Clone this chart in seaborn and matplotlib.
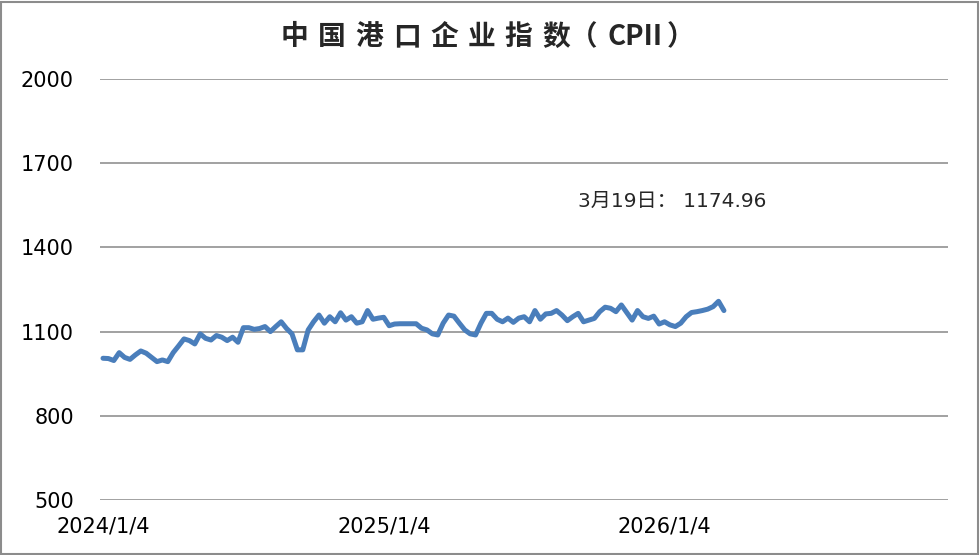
import matplotlib
matplotlib.use("Agg")
import matplotlib.pyplot as plt
from matplotlib.patches import Rectangle
import seaborn as sns
import pandas as pd

# weekly CPII readings, 2024/1/4 .. 2026/3/19
cpii = [1005, 1004, 997, 1025, 1008, 1001, 1017, 1031, 1023, 1008,
        993, 999, 993, 1025, 1049, 1074, 1068, 1056, 1092, 1076,
        1070, 1086, 1080, 1068, 1080, 1062, 1114, 1114, 1108, 1111,
        1118, 1100, 1118, 1135, 1111, 1092, 1035, 1035,
        1106, 1135, 1159, 1130, 1153, 1135, 1167, 1141, 1153, 1130,
        1135, 1175, 1144, 1148, 1151, 1121, 1127, 1128, 1128, 1128,
        1128, 1112, 1106, 1092, 1088, 1130, 1159, 1155, 1130, 1106,
        1092, 1088, 1130, 1165, 1165, 1144, 1135, 1148, 1133, 1148,
        1153, 1135, 1175, 1144, 1163, 1165, 1175, 1159, 1139, 1153,
        1165, 1135, 1141, 1147, 1171, 1187, 1183, 1171, 1195, 1168,
        1141, 1175, 1153, 1147, 1155, 1127, 1135, 1124, 1118, 1130,
        1153, 1168, 1171, 1175, 1180, 1189, 1208, 1174.96]
dates = pd.date_range("2024-01-04", periods=len(cpii), freq="7D")
tick_labels = ["2024/1/4", "2025/1/4", "2026/1/4"]
y_ticks = [500, 800, 1100, 1400, 1700, 2000]
title_chars = ["中", "国", "港", "口", "企", "业", "指", "数（"]
note = "3月19日： 1174.96"

df = pd.DataFrame({"date": dates, "pos": range(len(cpii)), "cpii": cpii})

sns.set_style("white")
plt.rcParams["font.family"] = ["DejaVu Sans", "Noto Sans CJK SC"]

fig = plt.figure(figsize=(9.8, 5.55), dpi=100)
ax = fig.add_axes([100.3 / 980, 1 - 500 / 555, (948 - 100.3) / 980, 421 / 555])

sns.lineplot(data=df, x="pos", y="cpii", ax=ax, color="#4a7ebb", lw=3.6)

ax.set_xlim(-0.5, 156.5)
ax.set_ylim(500, 2000)
ax.set_yticks(y_ticks)
ax.set_xticks([0, 52, 104])
ax.set_xticklabels(tick_labels)
ax.tick_params(length=0, labelsize=15, colors="black")
ax.tick_params(axis="y", pad=19)
ax.tick_params(axis="x", pad=12)
ax.yaxis.grid(True, color="#878787", lw=1.1)
ax.xaxis.grid(False)
ax.set_xlabel("")
ax.set_ylabel("")
sns.despine(ax=ax, left=True, bottom=True)

# title, letter-spaced like the original
ty = 1 - 37 / 555
tfont = dict(fontsize=20, family=["Noto Sans CJK SC"], weight="bold", va="center")
for i, ch in enumerate(title_chars):
    fig.text((281 + 37.3 * i) / 980, ty, ch, ha="left", **tfont)
fig.text(635 / 980, ty, "CPII", ha="center", **tfont)
fig.text(681 / 980, ty, "）", ha="center", **tfont)

fig.text(578 / 980, 1 - 201 / 555, note, ha="left", va="center", fontsize=14.5)

fig.patches.append(Rectangle((0.001, 0.001), 0.997, 0.996, transform=fig.transFigure,
                             fill=False, ec="#8c8c8c", lw=1.5))

fig.savefig("out.png", dpi=100)
